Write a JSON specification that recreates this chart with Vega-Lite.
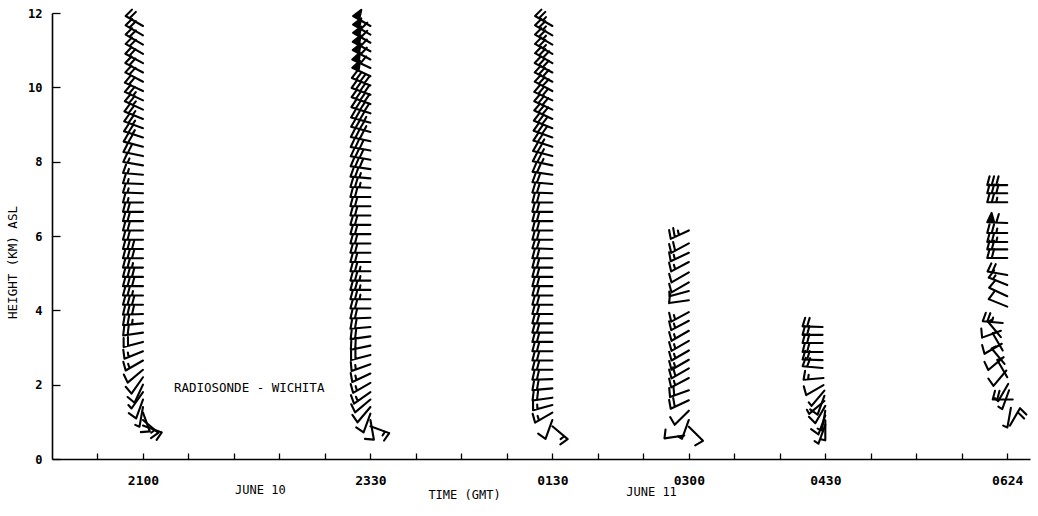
{
  "$schema": "https://vega.github.io/schema/vega-lite/v6.json",
  "width": 978,
  "height": 446,
  "autosize": "none",
  "padding": {"left": 52, "top": 13, "right": 8, "bottom": 57},
  "background": "white",
  "config": {
    "view": {"stroke": null},
    "axis": {"grid": false, "domainColor": "black", "tickColor": "black", "labelColor": "black", "titleColor": "black", "domainWidth": 1.6, "tickWidth": 1.3}
  },
  "datasets": {
    "barbs": [
      {"t":1,"h":11.65,"d":300,"s":"c4"},{"t":1,"h":11.4,"d":300,"s":"c4"},{"t":1,"h":11.15,"d":300,"s":"c4"},{"t":1,"h":10.9,"d":300,"s":"c4"},
      {"t":1,"h":10.65,"d":298,"s":"c4"},{"t":1,"h":10.4,"d":298,"s":"c4"},{"t":1,"h":10.15,"d":298,"s":"c4"},{"t":1,"h":9.9,"d":295,"s":"c4"},
      {"t":1,"h":9.65,"d":295,"s":"c5"},{"t":1,"h":9.4,"d":295,"s":"c5"},{"t":1,"h":9.15,"d":292,"s":"c5"},{"t":1,"h":8.9,"d":290,"s":"c5"},
      {"t":1,"h":8.65,"d":288,"s":"c5"},{"t":1,"h":8.4,"d":285,"s":"c4"},{"t":1,"h":8.15,"d":282,"s":"c4"},{"t":1,"h":7.9,"d":280,"s":"c3"},
      {"t":1,"h":7.65,"d":275,"s":"c3"},{"t":1,"h":7.4,"d":272,"s":"c3"},{"t":1,"h":7.15,"d":272,"s":"c3"},{"t":1,"h":6.9,"d":270,"s":"c3"},
      {"t":1,"h":6.65,"d":270,"s":"c4"},{"t":1,"h":6.4,"d":270,"s":"c4"},{"t":1,"h":6.15,"d":270,"s":"c4"},{"t":1,"h":5.9,"d":270,"s":"c4"},
      {"t":1,"h":5.65,"d":270,"s":"c6"},{"t":1,"h":5.4,"d":270,"s":"c6"},{"t":1,"h":5.15,"d":270,"s":"c5"},{"t":1,"h":4.9,"d":270,"s":"c6"},
      {"t":1,"h":4.65,"d":270,"s":"c6"},{"t":1,"h":4.4,"d":270,"s":"c5"},{"t":1,"h":4.15,"d":270,"s":"c6"},{"t":1,"h":3.9,"d":268,"s":"c6"},
      {"t":1,"h":3.65,"d":265,"s":"c5"},{"t":1,"h":3.4,"d":262,"s":"c4"},{"t":1,"h":3.15,"d":255,"s":"c4"},{"t":1,"h":2.9,"d":248,"s":"c3"},
      {"t":1,"h":2.65,"d":240,"s":"c3"},{"t":1,"h":2.4,"d":230,"s":"c2"},{"t":1,"h":2.2,"d":215,"s":"c2"},{"t":1,"h":2.0,"d":205,"s":"c2"},
      {"t":1,"h":1.8,"d":215,"s":"c1"},{"t":1,"h":1.6,"d":200,"s":"c2"},{"t":1,"h":1.4,"d":190,"s":"c1"},{"t":1,"h":1.25,"d":160,"s":"c2"},
      {"t":1,"h":1.05,"d":130,"s":"c3"},{"t":1,"h":0.9,"d":110,"s":"c2"},

      {"t":3.5,"h":11.65,"d":300,"s":"c10"},{"t":3.5,"h":11.42,"d":300,"s":"c12"},{"t":3.5,"h":11.2,"d":300,"s":"c12"},{"t":3.5,"h":10.97,"d":298,"s":"c12"},
      {"t":3.5,"h":10.75,"d":298,"s":"c12"},{"t":3.5,"h":10.52,"d":295,"s":"c12"},{"t":3.5,"h":10.3,"d":295,"s":"c10"},{"t":3.5,"h":10.05,"d":292,"s":"c8"},
      {"t":3.5,"h":9.8,"d":290,"s":"c8"},{"t":3.5,"h":9.55,"d":290,"s":"c8"},{"t":3.5,"h":9.3,"d":288,"s":"c8"},{"t":3.5,"h":9.05,"d":285,"s":"c7"},
      {"t":3.5,"h":8.8,"d":285,"s":"c7"},{"t":3.5,"h":8.55,"d":282,"s":"c6"},{"t":3.5,"h":8.3,"d":280,"s":"c6"},{"t":3.5,"h":8.05,"d":280,"s":"c6"},
      {"t":3.5,"h":7.8,"d":278,"s":"c6"},{"t":3.5,"h":7.55,"d":275,"s":"c5"},{"t":3.5,"h":7.3,"d":272,"s":"c5"},{"t":3.5,"h":7.05,"d":270,"s":"c4"},
      {"t":3.5,"h":6.8,"d":270,"s":"c4"},{"t":3.5,"h":6.55,"d":270,"s":"c4"},{"t":3.5,"h":6.3,"d":270,"s":"c4"},{"t":3.5,"h":6.05,"d":270,"s":"c4"},
      {"t":3.5,"h":5.8,"d":270,"s":"c4"},{"t":3.5,"h":5.55,"d":270,"s":"c4"},{"t":3.5,"h":5.3,"d":270,"s":"c4"},{"t":3.5,"h":5.05,"d":270,"s":"c5"},
      {"t":3.5,"h":4.8,"d":270,"s":"c5"},{"t":3.5,"h":4.55,"d":270,"s":"c5"},{"t":3.5,"h":4.3,"d":270,"s":"c5"},{"t":3.5,"h":4.05,"d":270,"s":"c4"},
      {"t":3.5,"h":3.8,"d":268,"s":"c4"},{"t":3.5,"h":3.55,"d":265,"s":"c4"},{"t":3.5,"h":3.3,"d":262,"s":"c4"},{"t":3.5,"h":3.05,"d":258,"s":"c4"},
      {"t":3.5,"h":2.8,"d":255,"s":"c4"},{"t":3.5,"h":2.55,"d":250,"s":"c3"},{"t":3.5,"h":2.3,"d":245,"s":"c3"},{"t":3.5,"h":2.05,"d":240,"s":"c3"},
      {"t":3.5,"h":1.8,"d":235,"s":"c3"},{"t":3.5,"h":1.6,"d":230,"s":"c2"},{"t":3.5,"h":1.4,"d":220,"s":"c2"},{"t":3.5,"h":1.22,"d":200,"s":"c2"},
      {"t":3.5,"h":1.05,"d":170,"s":"c2"},{"t":3.5,"h":0.88,"d":110,"s":"c3"},

      {"t":5.5,"h":11.65,"d":300,"s":"c5"},{"t":5.5,"h":11.4,"d":300,"s":"c5"},{"t":5.5,"h":11.15,"d":300,"s":"c5"},{"t":5.5,"h":10.9,"d":300,"s":"c5"},
      {"t":5.5,"h":10.65,"d":300,"s":"c6"},{"t":5.5,"h":10.4,"d":298,"s":"c6"},{"t":5.5,"h":10.15,"d":298,"s":"c6"},{"t":5.5,"h":9.9,"d":298,"s":"c6"},
      {"t":5.5,"h":9.65,"d":295,"s":"c6"},{"t":5.5,"h":9.4,"d":295,"s":"c6"},{"t":5.5,"h":9.15,"d":295,"s":"c6"},{"t":5.5,"h":8.9,"d":292,"s":"c6"},
      {"t":5.5,"h":8.65,"d":290,"s":"c6"},{"t":5.5,"h":8.4,"d":288,"s":"c5"},{"t":5.5,"h":8.15,"d":285,"s":"c5"},{"t":5.5,"h":7.9,"d":282,"s":"c5"},
      {"t":5.5,"h":7.65,"d":278,"s":"c4"},{"t":5.5,"h":7.4,"d":275,"s":"c4"},{"t":5.5,"h":7.15,"d":272,"s":"c4"},{"t":5.5,"h":6.9,"d":270,"s":"c4"},
      {"t":5.5,"h":6.65,"d":270,"s":"c4"},{"t":5.5,"h":6.4,"d":270,"s":"c4"},{"t":5.5,"h":6.15,"d":270,"s":"c4"},{"t":5.5,"h":5.9,"d":270,"s":"c4"},
      {"t":5.5,"h":5.65,"d":272,"s":"c4"},{"t":5.5,"h":5.4,"d":270,"s":"c4"},{"t":5.5,"h":5.15,"d":270,"s":"c4"},{"t":5.5,"h":4.9,"d":270,"s":"c4"},
      {"t":5.5,"h":4.65,"d":270,"s":"c4"},{"t":5.5,"h":4.4,"d":270,"s":"c4"},{"t":5.5,"h":4.15,"d":270,"s":"c4"},{"t":5.5,"h":3.9,"d":270,"s":"c4"},
      {"t":5.5,"h":3.65,"d":270,"s":"c4"},{"t":5.5,"h":3.4,"d":270,"s":"c4"},{"t":5.5,"h":3.15,"d":270,"s":"c4"},{"t":5.5,"h":2.9,"d":270,"s":"c4"},
      {"t":5.5,"h":2.65,"d":270,"s":"c4"},{"t":5.5,"h":2.4,"d":270,"s":"c4"},{"t":5.5,"h":2.15,"d":268,"s":"c4"},{"t":5.5,"h":1.9,"d":265,"s":"c4"},
      {"t":5.5,"h":1.65,"d":262,"s":"c4"},{"t":5.5,"h":1.45,"d":255,"s":"c3"},{"t":5.5,"h":1.25,"d":240,"s":"c3"},{"t":5.5,"h":1.05,"d":200,"s":"c2"},
      {"t":5.5,"h":0.88,"d":130,"s":"c3"},

      {"t":7,"h":6.15,"d":245,"s":"c5"},{"t":7,"h":5.8,"d":242,"s":"c4"},{"t":7,"h":5.55,"d":245,"s":"c3"},{"t":7,"h":5.3,"d":242,"s":"c3"},
      {"t":7,"h":5.02,"d":240,"s":"c2"},{"t":7,"h":4.75,"d":240,"s":"c2"},{"t":7,"h":4.52,"d":255,"s":"c1"},{"t":7,"h":4.27,"d":262,"s":"c2"},
      {"t":7,"h":3.95,"d":242,"s":"c3"},{"t":7,"h":3.72,"d":242,"s":"c3"},{"t":7,"h":3.45,"d":240,"s":"c3"},{"t":7,"h":3.18,"d":240,"s":"c3"},
      {"t":7,"h":2.92,"d":240,"s":"c3"},{"t":7,"h":2.67,"d":240,"s":"c3"},{"t":7,"h":2.44,"d":240,"s":"c4"},{"t":7,"h":2.18,"d":242,"s":"c3"},
      {"t":7,"h":1.85,"d":250,"s":"c4"},{"t":7,"h":1.58,"d":245,"s":"c4"},{"t":7,"h":1.3,"d":225,"s":"c2"},{"t":7,"h":1.05,"d":200,"s":"c1"},
      {"t":7,"h":0.87,"d":135,"s":"c2"},{"t":6.95,"h":0.63,"d":262,"s":"c2"},

      {"t":8.47,"h":3.55,"d":272,"s":"c4"},{"t":8.47,"h":3.34,"d":270,"s":"c4"},{"t":8.47,"h":3.12,"d":270,"s":"c4"},{"t":8.47,"h":2.88,"d":270,"s":"c4"},
      {"t":8.47,"h":2.66,"d":272,"s":"c4"},{"t":8.47,"h":2.45,"d":275,"s":"c4"},{"t":8.48,"h":2.18,"d":265,"s":"c3"},{"t":8.48,"h":1.99,"d":240,"s":"c2"},
      {"t":8.49,"h":1.84,"d":220,"s":"c1"},{"t":8.49,"h":1.7,"d":200,"s":"c2"},{"t":8.49,"h":1.56,"d":230,"s":"c1"},{"t":8.5,"h":1.43,"d":210,"s":"c2"},
      {"t":8.5,"h":1.3,"d":190,"s":"c1"},{"t":8.5,"h":1.17,"d":200,"s":"c2"},{"t":8.5,"h":1.04,"d":180,"s":"c1"},{"t":8.5,"h":0.92,"d":200,"s":"c1"},

      {"t":10.5,"h":7.37,"d":270,"s":"c6"},{"t":10.5,"h":7.15,"d":270,"s":"c6"},{"t":10.5,"h":6.91,"d":270,"s":"c5"},{"t":10.5,"h":6.35,"d":272,"s":"c12"},
      {"t":10.5,"h":6.08,"d":270,"s":"c5"},{"t":10.5,"h":5.84,"d":270,"s":"c5"},{"t":10.5,"h":5.64,"d":270,"s":"c4"},{"t":10.5,"h":5.41,"d":270,"s":"c4"},
      {"t":10.5,"h":4.95,"d":280,"s":"c4"},{"t":10.5,"h":4.68,"d":292,"s":"c3"},{"t":10.5,"h":4.38,"d":295,"s":"c2"},{"t":10.5,"h":4.1,"d":292,"s":"c2"},
      {"t":10.45,"h":3.66,"d":275,"s":"c5"},{"t":10.43,"h":3.45,"d":250,"s":"c2"},{"t":10.43,"h":3.28,"d":320,"s":"c1"},{"t":10.44,"h":3.1,"d":240,"s":"c2"},
      {"t":10.45,"h":2.92,"d":330,"s":"c1"},{"t":10.46,"h":2.74,"d":230,"s":"c2"},{"t":10.47,"h":2.56,"d":320,"s":"c1"},{"t":10.49,"h":2.38,"d":220,"s":"c2"},
      {"t":10.5,"h":2.2,"d":330,"s":"c1"},{"t":10.51,"h":2.02,"d":210,"s":"c1"},{"t":10.52,"h":1.85,"d":200,"s":"c1"},{"t":10.56,"h":1.6,"d":270,"s":"c4"},
      {"t":10.54,"h":1.38,"d":190,"s":"c1"},{"t":10.53,"h":0.9,"d":30,"s":"c4"}
    ],
    "centerNotes": [
      {"t":2.29,"h":-0.83,"txt":"JUNE 10"},
      {"t":6.59,"h":-0.89,"txt":"JUNE 11"}
    ],
    "leftNotes": [
      {"t":1.34,"h":1.91,"txt":"RADIOSONDE - WICHITA"}
    ]
  },
  "layer": [
    {
      "data": {"name": "barbs"},
      "mark": {"type": "point", "filled": true, "fill": "black", "stroke": "black", "strokeWidth": 2.1, "size": 400, "opacity": 1, "strokeCap": "round", "strokeJoin": "round"},
      "encoding": {
        "x": {
          "field": "t", "type": "quantitative",
          "scale": {"domain": [0, 10.75], "nice": false, "zero": false},
          "axis": {
            "values": [0.5,1,1.5,2,2.5,3,3.5,4,4.5,5,5.5,6,6.5,7,7.5,8,8.5,9,9.5,10,10.5],
            "labelExpr": "datum.value==1?'2100':datum.value==3.5?'2330':datum.value==5.5?'0130':datum.value==7?'0300':datum.value==8.5?'0430':datum.value==10.5?'0624':''",
            "labelOverlap": false, "labelFlush": false,
            "tickSize": -6, "labelPadding": 21,
            "labelFont": "DejaVu Sans Mono", "labelFontWeight": "bold", "labelFontSize": 13,
            "title": "TIME (GMT)", "titleX": 412, "titleY": 35, "titleAlign": "center", "titleBaseline": "middle",
            "titleFont": "DejaVu Sans Mono", "titleFontSize": 12, "titleFontWeight": "normal"
          }
        },
        "y": {
          "field": "h", "type": "quantitative",
          "scale": {"domain": [0, 12], "nice": false},
          "axis": {
            "values": [0,1,2,3,4,5,6,7,8,9,10,11,12],
            "tickSize": -8, "labelPadding": 18,
            "labelFont": "DejaVu Sans Mono", "labelFontWeight": "bold", "labelFontSize": 12,
            "title": "HEIGHT (KM) ASL", "titleX": -40, "titleY": 249, "titleAngle": -90, "titleAlign": "center", "titleBaseline": "middle",
            "titleFont": "DejaVu Sans Mono", "titleFontSize": 12.5, "titleFontWeight": "normal"
          }
        },
        "shape": {
          "field": "s", "type": "nominal", "legend": null,
          "scale": {
            "domain": ["c0","c1","c2","c3","c4","c5","c6","c7","c8","c10","c12","c14"],
            "range": [
              "M0,0L0,-2",
              "M0,0L0,-2M0,-2L0.45,-1.9",
              "M0,0L0,-2M0,-2L0.87,-1.77",
              "M0,0L0,-2M0,-2L0.87,-1.77M0,-1.55L0.45,-1.45",
              "M0,0L0,-2M0,-2L0.87,-1.77M0,-1.55L0.87,-1.32",
              "M0,0L0,-2M0,-2L0.87,-1.77M0,-1.55L0.87,-1.32M0,-1.1L0.45,-1.0",
              "M0,0L0,-2M0,-2L0.87,-1.77M0,-1.55L0.87,-1.32M0,-1.1L0.87,-0.87",
              "M0,0L0,-2M0,-2L0.87,-1.77M0,-1.55L0.87,-1.32M0,-1.1L0.87,-0.87M0,-0.65L0.45,-0.55",
              "M0,0L0,-2M0,-2L0.87,-1.77M0,-1.55L0.87,-1.32M0,-1.1L0.87,-0.87M0,-0.65L0.87,-0.42",
              "M0,0L0,-2M0,-2L0.95,-1.6L0,-1.3Z",
              "M0,0L0,-2M0,-2L0.95,-1.6L0,-1.3ZM0,-1.1L0.87,-0.87",
              "M0,0L0,-2M0,-2L0.95,-1.6L0,-1.3ZM0,-1.1L0.87,-0.87M0,-0.65L0.87,-0.42"
            ]
          }
        },
        "angle": {"field": "d", "type": "quantitative", "scale": {"domain": [0, 360], "range": [0, 360]}}
      }
    },
    {
      "data": {"name": "centerNotes"},
      "mark": {"type": "text", "align": "center", "baseline": "middle", "font": "DejaVu Sans Mono", "fontSize": 12, "color": "black"},
      "encoding": {
        "x": {"field": "t", "type": "quantitative", "scale": {"domain": [0, 10.75], "nice": false, "zero": false}},
        "y": {"field": "h", "type": "quantitative", "scale": {"domain": [0, 12], "nice": false}},
        "text": {"field": "txt", "type": "nominal"}
      }
    },
    {
      "data": {"name": "leftNotes"},
      "mark": {"type": "text", "align": "left", "baseline": "middle", "font": "DejaVu Sans Mono", "fontSize": 12.5, "color": "black"},
      "encoding": {
        "x": {"field": "t", "type": "quantitative", "scale": {"domain": [0, 10.75], "nice": false, "zero": false}},
        "y": {"field": "h", "type": "quantitative", "scale": {"domain": [0, 12], "nice": false}},
        "text": {"field": "txt", "type": "nominal"}
      }
    }
  ]
}
